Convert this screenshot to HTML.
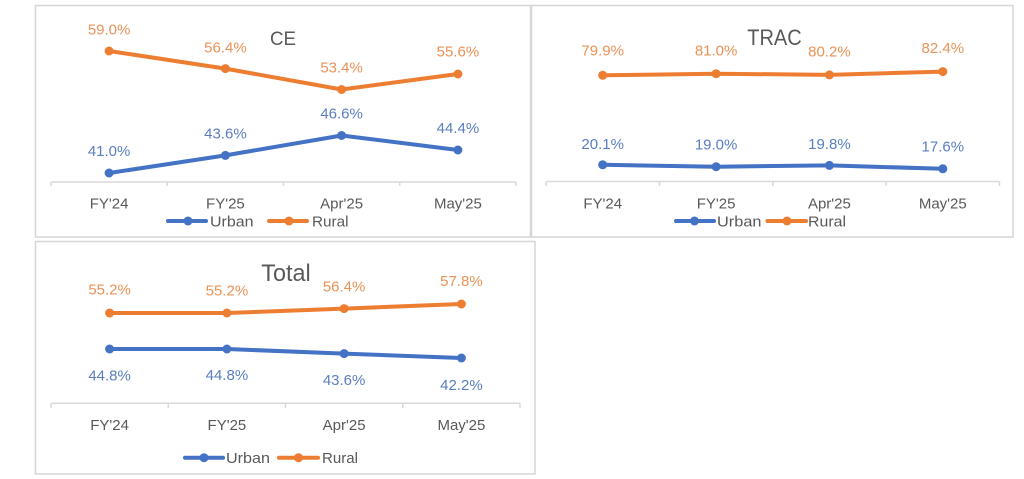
<!DOCTYPE html>
<html>
<head>
<meta charset="utf-8">
<style>
  html, body { margin: 0; padding: 0; background: #ffffff; }
  body { width: 1024px; height: 479px; overflow: hidden; }
  svg { display: block; }
  text { font-family: "Liberation Sans", Arial, sans-serif; }
  .ttl { fill: #595959; text-anchor: middle; }
  .cat { fill: #595959; font-size: 15px; text-anchor: middle; }
  .leg { fill: #595959; font-size: 15px; }
  .lo { fill: #EA9257; font-size: 15px; text-anchor: middle; }
  .lb { fill: #5A7EC0; font-size: 15px; text-anchor: middle; }
  .ax { stroke: #D9D9D9; stroke-width: 1.5; fill: none; }
  .box { stroke: #D6D6D6; stroke-width: 1.5; fill: #ffffff; }
  .so { stroke: #ED7D31; stroke-width: 4; fill: none; stroke-linejoin: round; stroke-linecap: round; }
  .sb { stroke: #4472C4; stroke-width: 4; fill: none; stroke-linejoin: round; stroke-linecap: round; }
  .mo { fill: #ED7D31; }
  .mb { fill: #4472C4; }
</style>
</head>
<body>
<svg width="1024" height="479" viewBox="0 0 1024 479" xmlns="http://www.w3.org/2000/svg">
  <rect x="0" y="0" width="1024" height="479" fill="#ffffff"/>

  <!-- ================= CE ================= -->
  <rect class="box" x="35.5" y="5.5" width="495" height="231.5"/>
  <text class="ttl" x="283" y="45" font-size="19.5" textLength="26" lengthAdjust="spacingAndGlyphs">CE</text>
  <path class="ax" d="M51 182 H516 M51 182 V186 M167.25 182 V186 M283.5 182 V186 M399.75 182 V186 M516 182 V186"/>
  <text class="cat" x="109.1" y="208.3">FY'24</text>
  <text class="cat" x="225.4" y="208.3">FY'25</text>
  <text class="cat" x="341.6" y="208.3">Apr'25</text>
  <text class="cat" x="457.9" y="208.3">May'25</text>
  <polyline class="so" points="109.1,51 225.4,68.6 341.6,89.5 457.9,74"/>
  <circle class="mo" cx="109.1" cy="51" r="4.5"/>
  <circle class="mo" cx="225.4" cy="68.6" r="4.5"/>
  <circle class="mo" cx="341.6" cy="89.5" r="4.5"/>
  <circle class="mo" cx="457.9" cy="74" r="4.5"/>
  <polyline class="sb" points="109.1,173 225.4,155.4 341.6,135.5 457.9,150"/>
  <circle class="mb" cx="109.1" cy="173" r="4.5"/>
  <circle class="mb" cx="225.4" cy="155.4" r="4.5"/>
  <circle class="mb" cx="341.6" cy="135.5" r="4.5"/>
  <circle class="mb" cx="457.9" cy="150" r="4.5"/>
  <text class="lo" x="109.1" y="34.5">59.0%</text>
  <text class="lo" x="225.4" y="52.6">56.4%</text>
  <text class="lo" x="341.6" y="72.6">53.4%</text>
  <text class="lo" x="457.9" y="56.6">55.6%</text>
  <text class="lb" x="109.1" y="156">41.0%</text>
  <text class="lb" x="225.4" y="138.3">43.6%</text>
  <text class="lb" x="341.6" y="118.3">46.6%</text>
  <text class="lb" x="457.9" y="133.2">44.4%</text>
  <line class="sb" x1="168" y1="221" x2="206" y2="221"/>
  <circle class="mb" cx="188" cy="221" r="4.5"/>
  <text class="leg" x="210" y="226.3" textLength="43.5" lengthAdjust="spacingAndGlyphs">Urban</text>
  <line class="so" x1="269" y1="221" x2="307" y2="221"/>
  <circle class="mo" cx="289" cy="221" r="4.5"/>
  <text class="leg" x="312" y="226.3" textLength="36.5" lengthAdjust="spacingAndGlyphs">Rural</text>

  <!-- ================= TRAC ================= -->
  <rect class="box" x="531.5" y="5.5" width="481.5" height="231.5"/>
  <text class="ttl" x="774.5" y="45" font-size="22.5" textLength="54.5" lengthAdjust="spacingAndGlyphs">TRAC</text>
  <path class="ax" d="M546 181.5 H999.5 M546 181.5 V186 M659.4 181.5 V186 M772.75 181.5 V186 M886.1 181.5 V186 M999.5 181.5 V186"/>
  <text class="cat" x="602.7" y="208.3">FY'24</text>
  <text class="cat" x="716.1" y="208.3">FY'25</text>
  <text class="cat" x="829.4" y="208.3">Apr'25</text>
  <text class="cat" x="942.8" y="208.3">May'25</text>
  <polyline class="so" points="602.7,75.3 716.1,73.7 829.4,74.9 942.8,71.6"/>
  <circle class="mo" cx="602.7" cy="75.3" r="4.5"/>
  <circle class="mo" cx="716.1" cy="73.7" r="4.5"/>
  <circle class="mo" cx="829.4" cy="74.9" r="4.5"/>
  <circle class="mo" cx="942.8" cy="71.6" r="4.5"/>
  <polyline class="sb" points="602.7,164.8 716.1,166.7 829.4,165.4 942.8,168.8"/>
  <circle class="mb" cx="602.7" cy="164.8" r="4.5"/>
  <circle class="mb" cx="716.1" cy="166.7" r="4.5"/>
  <circle class="mb" cx="829.4" cy="165.4" r="4.5"/>
  <circle class="mb" cx="942.8" cy="168.8" r="4.5"/>
  <text class="lo" x="602.7" y="55.6">79.9%</text>
  <text class="lo" x="716.1" y="55.3">81.0%</text>
  <text class="lo" x="829.4" y="56.3">80.2%</text>
  <text class="lo" x="942.8" y="53.2">82.4%</text>
  <text class="lb" x="602.7" y="149">20.1%</text>
  <text class="lb" x="716.1" y="149.6">19.0%</text>
  <text class="lb" x="829.4" y="149">19.8%</text>
  <text class="lb" x="942.8" y="151.4">17.6%</text>
  <line class="sb" x1="676" y1="221" x2="714" y2="221"/>
  <circle class="mb" cx="694.5" cy="221" r="4.5"/>
  <text class="leg" x="717" y="226.3" textLength="44.5" lengthAdjust="spacingAndGlyphs">Urban</text>
  <line class="so" x1="767.5" y1="221" x2="806" y2="221"/>
  <circle class="mo" cx="787" cy="221" r="4.5"/>
  <text class="leg" x="808" y="226.3" textLength="38" lengthAdjust="spacingAndGlyphs">Rural</text>

  <!-- ================= Total ================= -->
  <rect class="box" x="35.5" y="241.5" width="499.5" height="232.5"/>
  <text class="ttl" x="286" y="281" font-size="24" textLength="49.5" lengthAdjust="spacingAndGlyphs">Total</text>
  <path class="ax" d="M51 403.3 H520 M51 403.3 V408 M168.25 403.3 V408 M285.5 403.3 V408 M402.75 403.3 V408 M520 403.3 V408"/>
  <text class="cat" x="109.6" y="430">FY'24</text>
  <text class="cat" x="226.9" y="430">FY'25</text>
  <text class="cat" x="344.1" y="430">Apr'25</text>
  <text class="cat" x="461.4" y="430">May'25</text>
  <polyline class="so" points="109.6,313 226.9,313 344.1,308.6 461.4,304"/>
  <circle class="mo" cx="109.6" cy="313" r="4.5"/>
  <circle class="mo" cx="226.9" cy="313" r="4.5"/>
  <circle class="mo" cx="344.1" cy="308.6" r="4.5"/>
  <circle class="mo" cx="461.4" cy="304" r="4.5"/>
  <polyline class="sb" points="109.6,349 226.9,349 344.1,353.6 461.4,358"/>
  <circle class="mb" cx="109.6" cy="349" r="4.5"/>
  <circle class="mb" cx="226.9" cy="349" r="4.5"/>
  <circle class="mb" cx="344.1" cy="353.6" r="4.5"/>
  <circle class="mb" cx="461.4" cy="358" r="4.5"/>
  <text class="lo" x="109.6" y="294.5">55.2%</text>
  <text class="lo" x="226.9" y="295.6">55.2%</text>
  <text class="lo" x="344.1" y="291.5">56.4%</text>
  <text class="lo" x="461.4" y="286.2">57.8%</text>
  <text class="lb" x="109.6" y="380.6">44.8%</text>
  <text class="lb" x="226.9" y="380">44.8%</text>
  <text class="lb" x="344.1" y="385">43.6%</text>
  <text class="lb" x="461.4" y="389.8">42.2%</text>
  <line class="sb" x1="185" y1="457.7" x2="223" y2="457.7"/>
  <circle class="mb" cx="204" cy="457.7" r="4.5"/>
  <text class="leg" x="226" y="463" textLength="44" lengthAdjust="spacingAndGlyphs">Urban</text>
  <line class="so" x1="279" y1="457.7" x2="318" y2="457.7"/>
  <circle class="mo" cx="298.5" cy="457.7" r="4.5"/>
  <text class="leg" x="322" y="463" textLength="36" lengthAdjust="spacingAndGlyphs">Rural</text>
</svg>
</body>
</html>
